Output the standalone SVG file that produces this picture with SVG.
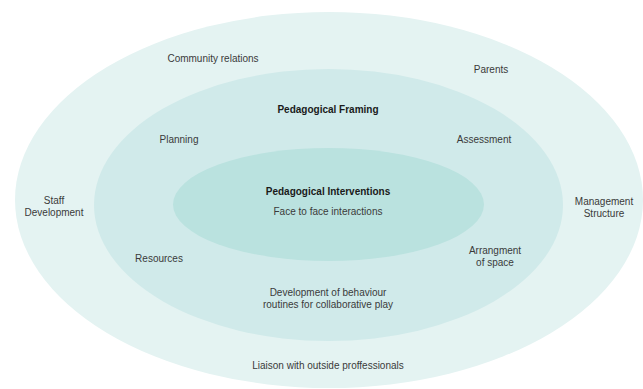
<svg xmlns="http://www.w3.org/2000/svg" width="643" height="389" viewBox="0 0 643 389">
<style>
text{font-family:"Liberation Sans",Arial,Helvetica,sans-serif;font-size:10px;fill:#3a3a3a;text-anchor:middle}
.b{font-weight:bold;fill:#1a1a1a}
</style>
<rect width="643" height="389" fill="#ffffff"/>
<g id="outer">
<ellipse cx="329" cy="200" rx="314" ry="188" fill="#e4f3f2"/>
<text x="213" y="62">Community relations</text>
<text x="491" y="73">Parents</text>
<text x="54" y="204">Staff</text>
<text x="54" y="216">Development</text>
<text x="604" y="205">Management</text>
<text x="604" y="217">Structure</text>
<text x="328" y="369">Liaison with outside proffessionals</text>
</g>
<g id="middle">
<ellipse cx="328.5" cy="205" rx="234.5" ry="136" fill="#d0eaea"/>
<text class="b" x="328" y="113">Pedagogical Framing</text>
<text x="179" y="143">Planning</text>
<text x="484" y="143">Assessment</text>
<text x="159" y="262">Resources</text>
<text x="495" y="254">Arrangment</text>
<text x="495" y="266">of space</text>
<text x="328" y="296">Development of behaviour</text>
<text x="328" y="308">routines for collaborative play</text>
</g>
<g id="inner">
<ellipse cx="328.5" cy="204.5" rx="155.5" ry="56.5" fill="#bae2df"/>
<text class="b" x="328" y="195">Pedagogical Interventions</text>
<text x="328" y="215">Face to face interactions</text>
</g>
<g id="connectors"></g>
</svg>
